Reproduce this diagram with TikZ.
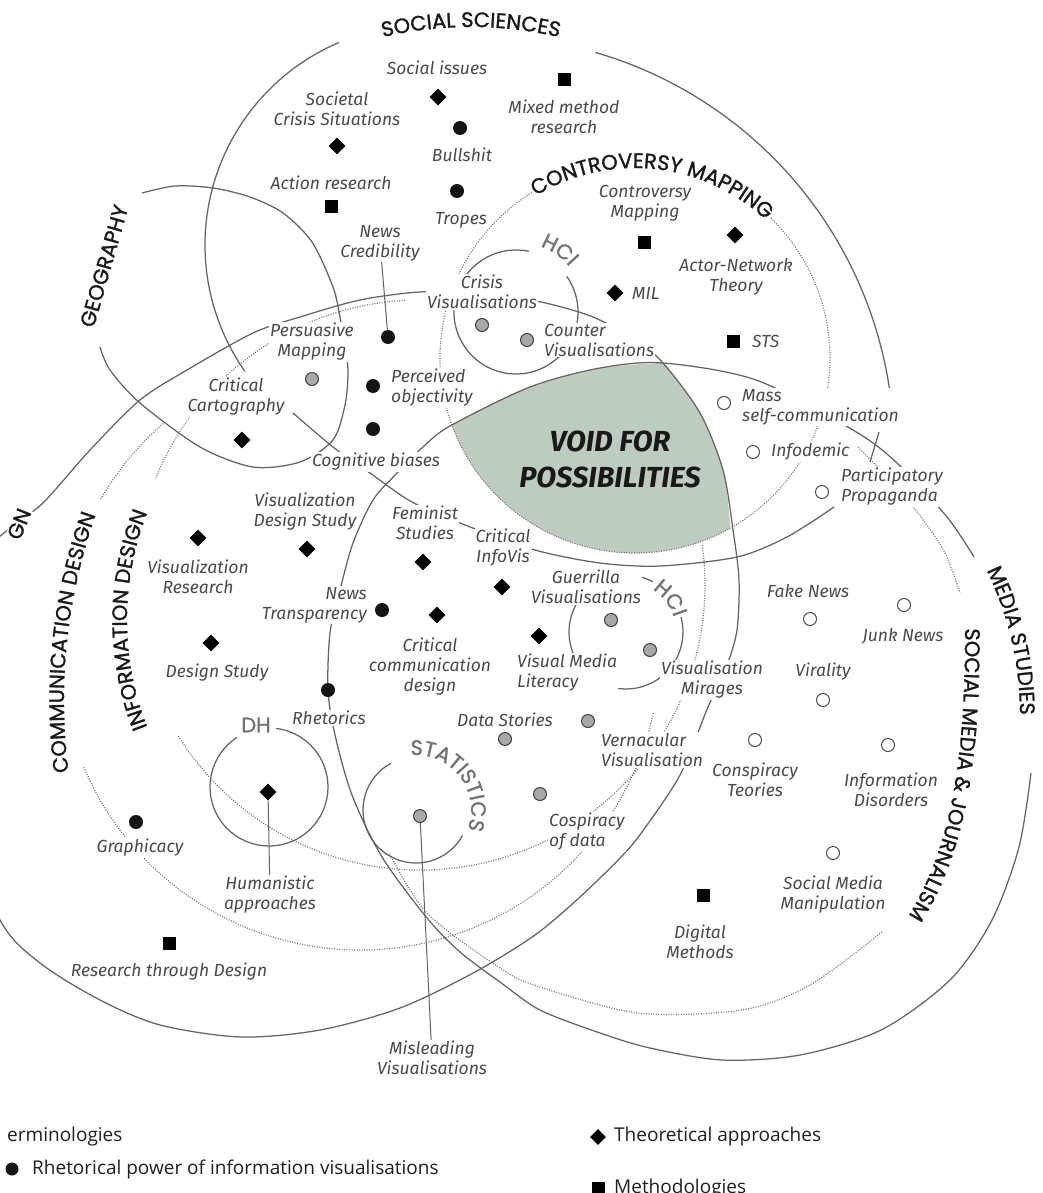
\documentclass[tikz,border=0pt]{standalone}
\usepackage{fontspec}
\usetikzlibrary{shapes.geometric,decorations.text}
\newfontfamily\lblfont{Fira Sans}
\newfontfamily\discfont{Poppins}[FakeBold=1.3]
\newfontfamily\legfont{Open Sans}
\definecolor{linec}{HTML}{6A625F}
\definecolor{dotc}{HTML}{7A7573}
\definecolor{lblc}{HTML}{4A4A4A}
\definecolor{voidg}{RGB}{189,204,191}
\definecolor{grayd}{HTML}{A8A8A8}
\tikzset{
  solidarc/.style={draw=linec, line width=1.25pt},
  dotarc/.style={draw=dotc, line width=1.2pt, dash pattern=on 1pt off 1.5pt},
  conn/.style={draw=linec, line width=1pt},
  lbl/.style={font=\lblfont\itshape\fontsize{17.5}{20}\selectfont, text=lblc, fill=white, inner sep=1pt, align=center},
  lbll/.style={lbl, align=left, anchor=west},
  lblr/.style={lbl, align=right, anchor=east},
  bdot/.style={circle, fill=black!92, minimum size=14pt, inner sep=0pt},
  gdot/.style={circle, fill=grayd, draw=black!75, line width=1pt, minimum size=13pt, inner sep=0pt},
  odot/.style={circle, fill=white, draw=black!70, line width=1pt, minimum size=13pt, inner sep=0pt},
  diam/.style={diamond, fill=black, minimum size=17pt, inner sep=0pt},
  sqm/.style={rectangle, fill=black, minimum size=13pt, inner sep=0pt},
  dlbl/.style={decorate, decoration={text along path, text align=center, text color=black!90, text={|\discfont\fontsize{21}{21}\selectfont|#1}}},
  glbl/.style={decorate, decoration={text along path, text align=center, text color=black!55, text={|\discfont\fontsize{21}{21}\selectfont|#1}}},
  legtxt/.style={font=\legfont\fontsize{19}{22}\selectfont, text=black!88, anchor=west, inner sep=0pt},
}
\begin{document}
\begin{tikzpicture}[x=1pt,y=-1pt]
\useasboundingbox (0,0) rectangle (1043,1193);
\fill[white] (0,0) rectangle (1043,1193);

% green void
\fill[voidg] plot[smooth] coordinates {(452,425) (490,405) (530,387) (600,368) (663,363)}
  -- plot[smooth] coordinates {(663,363) (700,413) (723,470) (730.4,528.1)}
  arc[start angle=60.7, end angle=160, radius=195] -- cycle;

% dotted circles
\draw[dotarc] ([shift={(-122:195)}]635,358) arc[start angle=-122, end angle=-406, radius=195];
\draw[dotarc] ([shift={(-93:285)}]420,585) arc[start angle=-93, end angle=-158, radius=285];
\draw[dotarc] ([shift={(-212:285)}]420,585) arc[start angle=-212, end angle=-368, radius=285];
\draw[dotarc] ([shift={(-131:300)}]360,650) arc[start angle=-131, end angle=-150, radius=300];
\draw[dotarc] ([shift={(-203:300)}]360,650) arc[start angle=-203, end angle=-348, radius=300];
\draw[dotarc] plot[smooth] coordinates {(858,447) (890,480) (921,517) (945,553) (960,593)};
\draw[dotarc] plot[smooth] coordinates {(882,932) (810,985) (742,1010) (638,1013) (540,987) (500,968) (427,913) (389,853)};

% solid circles
\draw[solidarc] ([shift={(-113:220)}]425,245) arc[start angle=-113, end angle=-215, radius=220];
\draw[solidarc] ([shift={(-73.8:414)}]480,450) arc[start angle=-73.8, end angle=-7.5, radius=414];
\draw[solidarc] (879,432) -- (870,462);
\draw[solidarc] plot[smooth] coordinates {(142,193) (175,186) (213,188) (250,197) (283,213) (312,242) (333,287) (340,317) (345,345) (348,372) (345,405) (333,440) (300,462) (253,467) (200,447) (140,403) (110,370) (100,347)};
\draw[solidarc] plot[smooth cycle] coordinates {(663,363) (700,413) (723,470) (733,530) (739,580) (737,630) (727,665) (708,707) (680,775) (642,832) (621,857) (580,897) (535,935) (475,972) (400,1008) (320,1030) (241,1037) (160,1025) (100,1000) (40,963) (0,920) (-50,800) (-60,680) (-30,570) (10,528) (43,503) (90,450) (140,400) (187,370) (253,333) (300,317) (360,300) (420,292) (480,293) (541,302) (593,317) (635,340)};
\draw[solidarc] plot[smooth] coordinates {(1031,773) (1019,847) (992,920) (950,980) (881,1030) (800,1055) (722,1060) (650,1048) (600,1033) (540,1010) (500,982) (460,952) (427,918) (382,857) (352,795) (335,735) (328,690) (330,633) (340,590) (353,543) (373,500) (397,473) (423,447) (450,426) (530,387) (600,368) (663,363) (756,380) (853,430) (897,463) (947,517) (974,557)};
\draw[solidarc] plot[smooth] coordinates {(293,413) (333,447) (370,473) (412,502) (465,525) (535,550) (600,563) (660,566) (737,557) (787,537) (834,507)};
\draw[solidarc] ([shift={(-123:59)}]269,787) arc[start angle=-123, end angle=-443, radius=59];
\draw[solidarc] ([shift={(-118:53)}]416,810) arc[start angle=-118, end angle=-331, radius=53];
\draw[solidarc] ([shift={(-78:62)}]516,312) arc[start angle=-78, end angle=-395, radius=62];
\draw[solidarc] ([shift={(-62:57)}]626,632) arc[start angle=-62, end angle=-375, radius=57];

% labels
\node[lbl] (lSocIss) at (437,68) {Social issues};
\node[lbl] (lSocietal) at (337,109) {Societal\\Crisis Situations};
\node[lbl] (lBull) at (462,155) {Bullshit};
\node[lbl] (lAction) at (331,183) {Action research};
\node[lbl] (lTropes) at (461,220) {Tropes};
\node[lbl] (lMixed) at (564,117) {Mixed method\\research};
\node[lbl] (lContro) at (645,203) {Controversy\\Mapping};
\node[lbl] (lANT) at (736,277) {Actor-Network\\Theory};
\node[lbll] (lMIL) at (631,293) {MIL};
\node[lbll] (lSTS) at (751,341) {STS};
\node[lbl] (lNewsCred) at (380,243) {News\\Credibility};
\node[lbl] (lCrisis) at (482,292) {Crisis\\Visualisations};
\node[lbll] (lCounter) at (543,340) {Counter\\Visualisations};
\node[lbl] (lPersu) at (312,342) {Persuasive\\Mapping};
\node[lbll] (lPerc) at (390,388) {Perceived\\objectivity};
\node[lbl] (lCritCart) at (236,397) {Critical\\Cartography};
\node[lbl] (lCogn) at (376,462) {Cognitive biases};
\node[lbll] (lMass) at (741,407) {Mass\\self-communication};
\node[lbll] (lInfod) at (770,452) {Infodemic};
\node[lbll] (lPartic) at (840,487) {Participatory\\Propaganda};
\node[lbl] (lVDS) at (305,512) {Visualization\\Design Study};
\node[lbl] (lFemin) at (425,523) {Feminist\\Studies};
\node[lbl] (lCritInfo) at (503,548) {Critical\\InfoVis};
\node[lbl] (lVisRes) at (198,577) {Visualization\\Research};
\node[lbl] (lGuer) at (586,587) {Guerrilla\\Visualisations};
\node[lbl] (lFake) at (808,591) {Fake News};
\node[lblr] (lNewsTr) at (368,605) {News\\Transparency};
\node[lbl] (lJunk) at (903,636) {Junk News};
\node[lbl] (lCritComm) at (430,667) {Critical\\communication\\design};
\node[lbll] (lVML) at (516,673) {Visual Media\\Literacy};
\node[lbl] (lDesSt) at (217,673) {Design Study};
\node[lbl] (lViral) at (823,672) {Virality};
\node[lbl] (lMirage) at (712,680) {Visualisation\\Mirages};
\node[lbl] (lRhet) at (329,718) {Rhetorics};
\node[lbl] (lDataSt) at (505,720) {Data Stories};
\node[lbll] (lVern) at (600,750) {Vernacular\\Visualisation};
\node[lbl] (lConsp) at (755,780) {Conspiracy\\Teories};
\node[lbl] (lInfoDis) at (891,790) {Information\\Disorders};
\node[lbll] (lCospi) at (548,832) {Cospiracy\\of data};
\node[lbl] (lGraph) at (140,848) {Graphicacy};
\node[lbl] (lSMM) at (833,895) {Social Media\\Manipulation};
\node[lbl] (lHuman) at (270,895) {Humanistic\\approaches};
\node[lbl] (lDigit) at (700,942) {Digital\\Methods};
\node[lbl] (lRtD) at (169,972) {Research through Design};
\node[lbl] (lMislead) at (432,1058) {Misleading\\Visualisations};

% markers
\node[diam] (mSocIss) at (438,97) {};
\node[diam] (mSocietal) at (337,146) {};
\node[sqm] (mMixed) at (564,80) {};
\node[bdot] (mBull) at (460,128) {};
\node[bdot] (mTropes) at (457,191) {};
\node[sqm] (mAction) at (331,206) {};
\node[sqm] (mContro) at (644,242) {};
\node[diam] (mANT) at (735,235) {};
\node[diam] (mMIL) at (615,293) {};
\node[sqm] (mSTS) at (733,341) {};
\node[bdot] (mNewsCred) at (388,337) {};
\node[gdot] (mCrisis) at (482,325) {};
\node[gdot] (mCounter) at (527,340) {};
\node[gdot] (mPersu) at (312,379) {};
\node[bdot] (mPerc) at (373,386) {};
\node[bdot] (mCogn) at (373,429) {};
\node[diam] (mCritCart) at (242,440) {};
\node[odot] (mMass) at (724,403) {};
\node[odot] (mInfod) at (753,452) {};
\node[odot] (mPartic) at (822,492) {};
\node[diam] (mVisRes) at (198,538) {};
\node[diam] (mVDS) at (307,549) {};
\node[diam] (mFemin) at (423,562) {};
\node[diam] (mCritInfo) at (502,587) {};
\node[bdot] (mNewsTr) at (382,610) {};
\node[diam] (mCritComm) at (437,615) {};
\node[diam] (mVML) at (539,636) {};
\node[gdot] (mGuer) at (611,620) {};
\node[gdot] (mMirage) at (650,650) {};
\node[odot] (mFake) at (810,619) {};
\node[odot] (mJunk) at (904,605) {};
\node[diam] (mDesSt) at (211,643) {};
\node[bdot] (mRhet) at (328,690) {};
\node[odot] (mViral) at (823,700) {};
\node[gdot] (mDataSt) at (505,739) {};
\node[gdot] (mVern) at (588,721) {};
\node[odot] (mConsp) at (755,740) {};
\node[odot] (mInfoDis) at (888,745) {};
\node[diam] (mHuman) at (268,792) {};
\node[gdot] (mCospi) at (540,794) {};
\node[gdot] (mMislead) at (420,816) {};
\node[bdot] (mGraph) at (136,822) {};
\node[odot] (mSMM) at (833,853) {};
\node[sqm] (mDigit) at (703,895) {};
\node[sqm] (mRtD) at (169,943) {};

% connectors
\draw[conn] (lNewsCred) -- (mNewsCred);
\draw[conn] (mHuman) -- (lHuman);
\draw[conn] (mMislead) -- (lMislead);

% discipline labels
\path[dlbl={SOCIAL SCIENCES}] ([shift={(-118:386)}]471,413) arc[start angle=-118, end angle=-62, radius=386];
\path[dlbl={CONTROVERSY MAPPING}] ([shift={(-137:190)}]635,358) arc[start angle=-137, end angle=-31, radius=190];
\path[glbl={HCI}] ([shift={(-85:70)}]516,312) arc[start angle=-85, end angle=-25, radius=70];
\path[glbl={HCI}] ([shift={(-75:50)}]626,632) arc[start angle=-75, end angle=0, radius=50];
\path[glbl={STATISTICS}] ([shift={(-117:55)}]416,810) arc[start angle=-117, end angle=42, radius=55];
\path[dlbl={MEDIA STUDIES}] ([shift={(-33:330)}]690,715) arc[start angle=-33, end angle=7, radius=330];
\path[dlbl={INFORMATION DESIGN}] ([shift={(-210:293)}]420,620) arc[start angle=-210, end angle=-150, radius=293];
\path[dlbl={COMMUNICATION DESIGN}] ([shift={(-194:556)}]620,700) arc[start angle=-194, end angle=-154, radius=556];
\path[dlbl={SOCIAL MEDIA {\&} JOURNALISM}] (965,605) .. controls (966,730) and (960,850) .. (895,935);
\node[font=\discfont\fontsize{21}{21}\selectfont, text=black!90, rotate=74, inner sep=0pt] (lGeo) at (104,266) {GEOGRAPHY};
\node[font=\discfont\fontsize{21}{21}\selectfont, text=black!90, rotate=68, fill=white, inner sep=1pt] (lGN) at (19,524) {GN};
\node[font=\discfont\fontsize{21}{21}\selectfont, text=black!55, inner sep=0pt] (lDH) at (256,725) {DH};

\node[font=\lblfont\bfseries\itshape\fontsize{29}{36}\selectfont, align=center, text=black!90] (void) at (610,459) {VOID FOR\\POSSIBILITIES};

% legend
\node[legtxt] (legT) at (7,1137) {erminologies};
\node[bdot, minimum size=13pt] (legB) at (12,1169) {};
\node[legtxt] (legR) at (32,1169) {Rhetorical power of information visualisations};
\node[diam, minimum size=16pt] (legD) at (598,1137) {};
\node[legtxt] (legTh) at (614,1137) {Theoretical approaches};
\node[sqm] (legS) at (598,1188) {};
\node[legtxt] (legM) at (614,1189) {Methodologies};
\end{tikzpicture}
\end{document}
